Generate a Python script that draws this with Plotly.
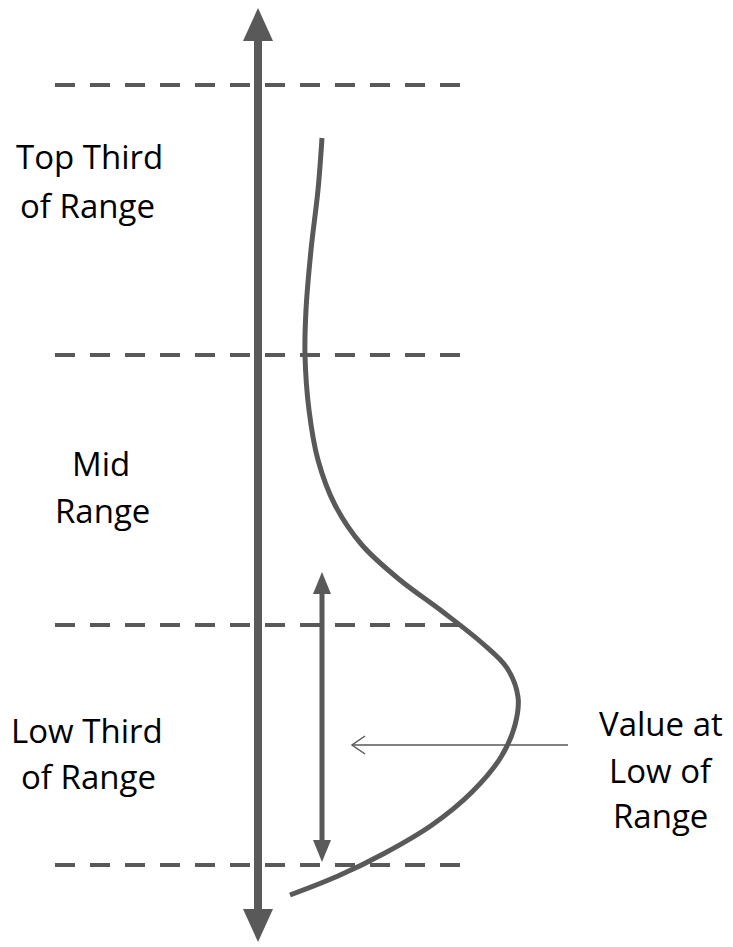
import plotly.graph_objects as go

W, H = 733, 947
GRAY = "#595959"

# Dashed boundary levels (y in image pixels)
band_levels = [85, 355, 625, 865]
band_x = [55, 462]

# Main axis arrow (x, y_top, y_bottom)
axis_x = 258
axis_y = [8, 942]

# Curve points
curve_x = [322, 318, 311, 306, 305, 309, 318, 335, 362, 400, 443, 482, 507, 518, 515, 501, 472, 432, 385, 338, 290]
curve_y = [138, 190, 250, 310, 355, 410, 460, 505, 545, 580, 612, 643, 668, 697, 725, 757, 792, 825, 853, 876, 895]

# Low-range span arrow
span_x = 322
span_y = [572, 862]

# Pointer arrow
pointer_x = [568, 352]
pointer_y = 745

# Text labels, one entry per line (text, center x, baseline y)
label_lines = ["Top Third", "of Range", "Mid", "Range", "Low Third", "of Range", "Value at", "Low of", "Range"]
label_x = [89, 87, 101, 102, 87, 88, 661, 661, 660]
label_base = [168, 217, 475, 522, 742, 788, 735, 782, 827]

fig = go.Figure()

fig.add_trace(go.Scatter(x=curve_x, y=curve_y, mode="lines",
                         line=dict(color=GRAY, width=5, shape="spline", smoothing=1.0),
                         hoverinfo="skip"))

shapes = []
for yl in band_levels:
    shapes.append(dict(type="line", x0=band_x[0], x1=band_x[1], y0=yl, y1=yl,
                       line=dict(color=GRAY, width=4, dash="20px,15px"), layer="below"))

def vertical_double_arrow(x, y0, y1, lw, hw, hh):
    out = [dict(type="line", x0=x, x1=x, y0=y0 + hh * 0.8, y1=y1 - hh * 0.8,
                line=dict(color=GRAY, width=lw))]
    out.append(dict(type="path", path=f"M {x} {y0} L {x - hw/2} {y0 + hh} L {x + hw/2} {y0 + hh} Z",
                    fillcolor=GRAY, line=dict(width=0)))
    out.append(dict(type="path", path=f"M {x} {y1} L {x - hw/2} {y1 - hh} L {x + hw/2} {y1 - hh} Z",
                    fillcolor=GRAY, line=dict(width=0)))
    return out

shapes += vertical_double_arrow(axis_x, axis_y[0], axis_y[1], 8, 30, 33)
shapes += vertical_double_arrow(span_x, span_y[0], span_y[1], 5, 18, 22)

# pointer arrow (thin, open head)
shapes.append(dict(type="line", x0=pointer_x[0], x1=pointer_x[1], y0=pointer_y, y1=pointer_y,
                   line=dict(color=GRAY, width=1.5)))
shapes.append(dict(type="path",
                   path=f"M {pointer_x[1] + 13} {pointer_y - 9} L {pointer_x[1]} {pointer_y} L {pointer_x[1] + 13} {pointer_y + 9}",
                   line=dict(color=GRAY, width=1.5)))

FS = 33
annotations = []
for t, x, yb in zip(label_lines, label_x, label_base):
    annotations.append(dict(x=x, y=yb - 0.36 * FS, text=t, showarrow=False, xanchor="center", yanchor="middle",
                            font=dict(family="Open Sans, sans-serif", size=FS, color="#000000"),
                            align="center"))

fig.update_layout(
    width=W, height=H,
    margin=dict(l=0, r=0, t=0, b=0),
    paper_bgcolor="white", plot_bgcolor="white",
    showlegend=False,
    shapes=shapes, annotations=annotations,
    xaxis=dict(range=[0, W], visible=False, fixedrange=True),
    yaxis=dict(range=[H, 0], visible=False, fixedrange=True),
)

fig.write_html("out.html", config={"displayModeBar": False},
               post_script="document.body.style.margin='0';document.body.style.overflow='hidden';")
